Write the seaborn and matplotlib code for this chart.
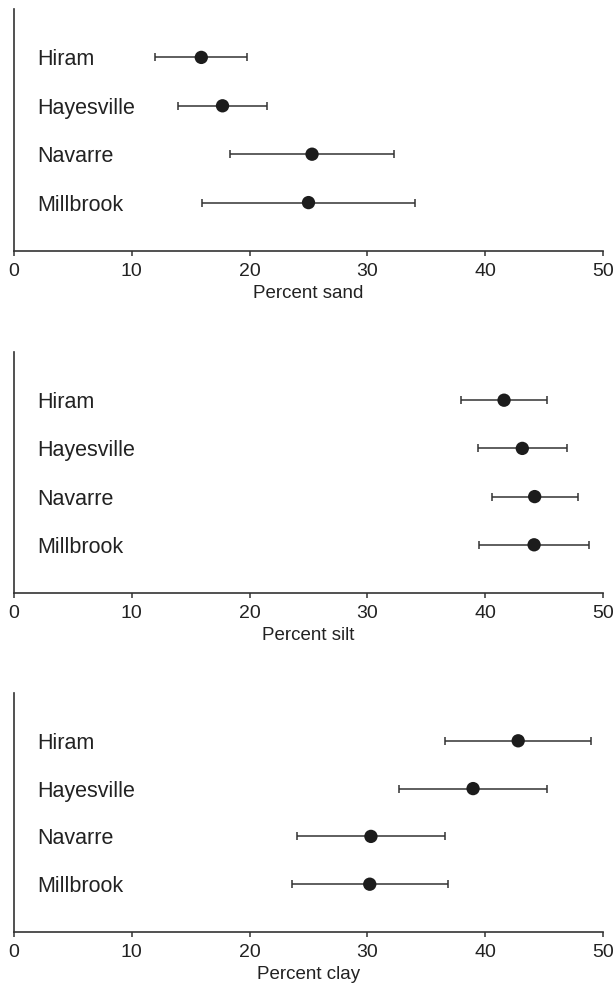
import numpy as np
import pandas as pd
import seaborn as sns
import matplotlib.pyplot as plt

# ---- data ----
sites = ["Hiram", "Hayesville", "Navarre", "Millbrook"]

sand_mean = [15.9, 17.7, 25.3, 25.0]
sand_sd = [3.9, 3.75, 7.0, 9.05]

silt_mean = [41.6, 43.15, 44.2, 44.15]
silt_sd = [3.65, 3.8, 3.65, 4.7]

clay_mean = [42.8, 38.97, 30.3, 30.2]
clay_sd = [6.2, 6.25, 6.25, 6.6]

x_ticks = [0, 10, 20, 30, 40, 50]
x_labels = ["Percent sand", "Percent silt", "Percent clay"]

# ---- style ----
sns.set_theme(style="white")
plt.rcParams["font.family"] = ["Liberation Sans", "DejaVu Sans"]
INK = "#222222"

fig = plt.figure(figsize=(6.16, 9.83), dpi=100)
fig.patch.set_facecolor("white")

left, width = 14 / 616, (603 - 14) / 616
panels_px = [(9, 251), (352, 593), (693, 932)]

series = [(sand_mean, sand_sd), (silt_mean, silt_sd), (clay_mean, clay_sd)]

for (top_px, bot_px), (means, sds), xlab in zip(panels_px, series, x_labels):
    bottom = 1 - bot_px / 983
    height = (bot_px - top_px) / 983
    ax = fig.add_axes([left, bottom, width, height])
    ax.set_facecolor("white")

    df = pd.DataFrame({"site": sites, "mean": means, "sd": sds,
                       "pos": np.arange(len(sites))})

    ax.errorbar(df["mean"], df["pos"], xerr=df["sd"], fmt="none",
                ecolor="#333333", elinewidth=1.1, capsize=3.0, capthick=1.1,
                zorder=2)
    sns.scatterplot(data=df, x="mean", y="pos", ax=ax, s=92, color="#1c1c1c",
                    edgecolor="none", zorder=3, legend=False)

    for _, row in df.iterrows():
        ax.text(2.0, row["pos"], row["site"], va="center_baseline", ha="left",
                fontsize=15.5, color=INK)

    ax.set_xlim(0, 50)
    ax.set_ylim(len(sites), -1)
    ax.set_xticks(x_ticks)
    ax.set_xticklabels([str(t) for t in x_ticks])
    ax.set_yticks([])
    ax.set_ylabel("")
    ax.set_xlabel(xlab, fontsize=13.5, color=INK, labelpad=4)

    sns.despine(ax=ax)
    for side in ("left", "bottom"):
        ax.spines[side].set_linewidth(1.2)
        ax.spines[side].set_color("#333333")
    ax.tick_params(axis="x", direction="out", length=3.3, width=1.1,
                   color="#333333", pad=5, labelsize=14, labelcolor=INK,
                   bottom=True)

fig.savefig("out.png", dpi=100, facecolor="white")
